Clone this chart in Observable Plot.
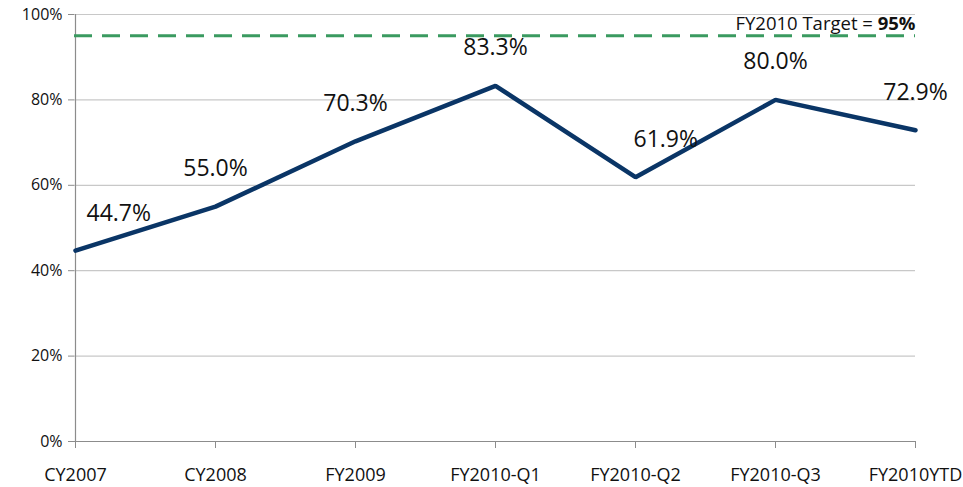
<!DOCTYPE html>
<html>
<head>
<meta charset="utf-8">
<script src="https://cdn.jsdelivr.net/npm/d3@7"></script>
<script src="https://cdn.jsdelivr.net/npm/@observablehq/plot@0.6"></script>
<style>
  html, body { margin: 0; padding: 0; background: #fff; }
  #chart { width: 963px; height: 487px; }
  svg { font-family: "Open Sans", Lato, sans-serif; }
</style>
</head>
<body>
<div id="chart"></div>
<script>
const categories = ["CY2007", "CY2008", "FY2009", "FY2010-Q1", "FY2010-Q2", "FY2010-Q3", "FY2010YTD"];
const values = [44.7, 55.0, 70.3, 83.3, 61.9, 80.0, 72.9];
const yTicks = [0, 20, 40, 60, 80, 100];
const targetValue = 95;
const targetLabel = "FY2010 Target = ";
const targetLabelBold = "95%";

const data = categories.map((c, i) => ({cat: c, v: values[i]}));
const fmt = d => d.v.toFixed(1) + "%";
const font = "'Open Sans', Lato, sans-serif";

const chart = Plot.plot({
  width: 963,
  height: 487,
  marginLeft: 74,
  marginRight: 48,
  marginTop: 14,
  marginBottom: 46,
  style: {fontFamily: font, background: "white"},
  x: {type: "point", domain: categories, padding: 0},
  y: {domain: [0, 100]},
  marks: [
    Plot.ruleY(yTicks.filter(d => d > 0), {stroke: "#c8c8c8", strokeWidth: 1.2}),
    Plot.ruleX([categories[0]], {stroke: "#8c8c8c", strokeWidth: 1.2}),
    Plot.ruleY([0], {stroke: "#8c8c8c", strokeWidth: 1.2}),
    Plot.axisY({ticks: yTicks, tickFormat: d => d + "%", tickSize: 6, tickPadding: 6, stroke: "#8c8c8c", fontSize: 16, fill: "#111", label: null}),
    Plot.axisX({tickSize: 7, tickPadding: 20, stroke: "#8c8c8c", fontSize: 18, fill: "#111", label: null}),
    Plot.ruleY([targetValue], {stroke: "#3a9a60", strokeWidth: 3, strokeDasharray: "18,10"}),
    Plot.line(data, {x: "cat", y: "v", stroke: "#0a3566", strokeWidth: 4.5, strokeLinejoin: "miter"}),
    // centred labels above the points
    Plot.text(data.filter((d, i) => i !== 0 && i !== 4), {
      x: "cat", y: "v", text: fmt, textAnchor: "middle",
      dy: -38, fontSize: 23, fill: "#111"
    }),
    // labels nudged right of their points
    Plot.text(data.filter((d, i) => i === 0), {
      x: "cat", y: "v", text: fmt, textAnchor: "start",
      dx: 11, dy: -37, fontSize: 23, fill: "#111"
    }),
    Plot.text(data.filter((d, i) => i === 4), {
      x: "cat", y: "v", text: fmt, textAnchor: "start",
      dx: -2, dy: -38, fontSize: 23, fill: "#111"
    }),
    Plot.text([{cat: categories[categories.length - 1], v: targetValue}], {
      x: "cat", y: "v", text: () => targetLabel + targetLabelBold,
      textAnchor: "end", dy: -12, fontSize: 18.5, fill: "#111", className: "target-label"
    })
  ]
});
document.getElementById("chart").append(chart);

// render the percentage in bold within the same text element
d3.select(chart).selectAll("g.target-label text").each(function() {
  const t = d3.select(this);
  t.text(null);
  t.append("tspan").text(targetLabel);
  t.append("tspan").attr("font-weight", "bold").text(targetLabelBold);
});
</script>
</body>
</html>
